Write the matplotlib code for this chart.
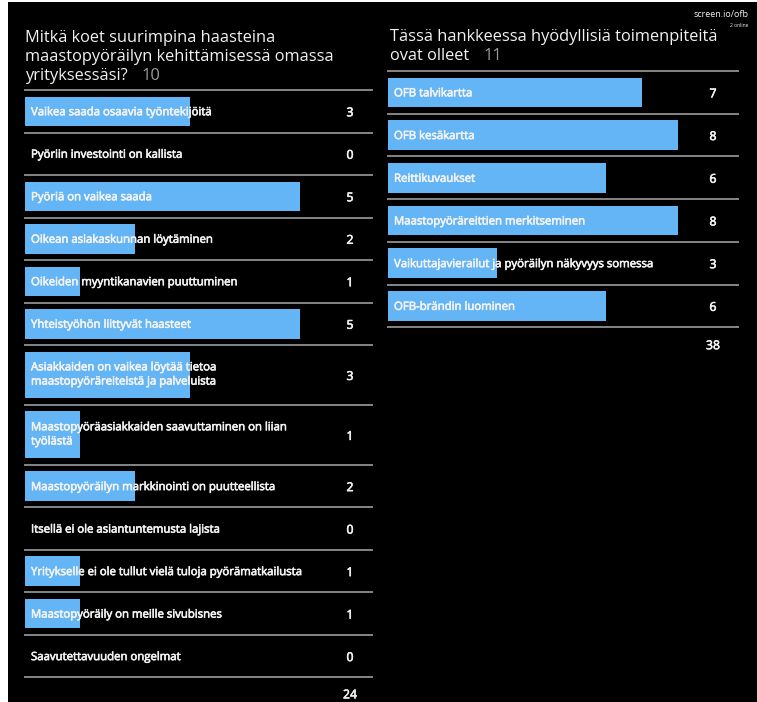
import matplotlib
matplotlib.use("Agg")
import matplotlib.pyplot as plt
import matplotlib.patheffects as pe
from matplotlib.patches import Rectangle
from matplotlib.text import Annotation

# ---------------- data ----------------
left_title = ["Mitkä koet suurimpina haasteina",
              "maastopyöräilyn kehittämisessä omassa",
              "yrityksessäsi?"]
left_respondents = 10
left_labels = [
    "Vaikea saada osaavia työntekijöitä",
    "Pyöriin investointi on kallista",
    "Pyöriä on vaikea saada",
    "Oikean asiakaskunnan löytäminen",
    "Oikeiden myyntikanavien puuttuminen",
    "Yhteistyöhön liittyvät haasteet",
    "Asiakkaiden on vaikea löytää tietoa\nmaastopyöräreiteistä ja palveluista",
    "Maastopyöräasiakkaiden saavuttaminen on liian\ntyölästä",
    "Maastopyöräilyn markkinointi on puutteellista",
    "Itsellä ei ole asiantuntemusta lajista",
    "Yritykselle ei ole tullut vielä tuloja pyörämatkailusta",
    "Maastopyöräily on meille sivubisnes",
    "Saavutettavuuden ongelmat",
]
left_values = [3, 0, 5, 2, 1, 5, 3, 1, 2, 0, 1, 1, 0]
left_total = 24

right_title = ["Tässä hankkeessa hyödyllisiä toimenpiteitä",
               "ovat olleet"]
right_respondents = 11
right_labels = [
    "OFB talvikartta",
    "OFB kesäkartta",
    "Reittikuvaukset",
    "Maastopyöräreittien merkitseminen",
    "Vaikuttajavierailut ja pyöräilyn näkyvyys somessa",
    "OFB-brändin luominen",
]
right_values = [7, 8, 6, 8, 3, 6]
right_total = 38

# ---------------- style ----------------
W, H = 757, 702
BG = "#000000"
BAR = "#64b5f6"
SEP = "#858585"
TXT = "#f2f2f2"
CNT = "#9a9a9a"
FONT = ["Open Sans", "DejaVu Sans"]
FAT = [pe.withStroke(linewidth=0.45, foreground=TXT)]

fig = plt.figure(figsize=(W / 100, H / 100), dpi=100)
fig.patch.set_facecolor(BG)
# white frame strips (left and top) of the screenshot
fig.add_artist(Rectangle((0, 0), 8 / W, 1, transform=fig.transFigure,
                         facecolor="white", edgecolor="none", zorder=20))
fig.add_artist(Rectangle((0, 1 - 2 / H), 1, 2 / H, transform=fig.transFigure,
                         facecolor="white", edgecolor="none", zorder=20))


def fx(px):
    return px / W


def fy(py):
    return 1 - py / H


def title(lines, respondents, x_px, baselines):
    last = None
    for line, b in zip(lines, baselines):
        last = fig.text(fx(x_px), fy(b), line, color=TXT, fontsize=11.8,
                        family=FONT, va="baseline", ha="left")
    ann = Annotation(str(respondents), xy=(1, 0), xycoords=last,
                     xytext=(10, 0), textcoords="offset points",
                     color=CNT, fontsize=11.8, family=FONT,
                     va="bottom", ha="left")
    fig.add_artist(ann)
    return ann


def panel(x0, x1, top, unit, labels, values, total, num_x, row_h, total_gap):
    ax = fig.add_axes([fx(x0), 0, fx(x1) - fx(x0), fy(top)])
    ax.set_facecolor("none")
    ax.set_xlim(0, (x1 - x0) / unit)
    ax.set_ylim(H - top, 0)
    ax.axis("off")
    y = 0
    ax.plot([0, 1], [0, 0], transform=ax.get_yaxis_transform(),
            color=SEP, lw=1.4, clip_on=False)
    for lab, v in zip(labels, values):
        nlines = lab.count("\n") + 1
        h = row_h if nlines == 1 else row_h * 1.41
        c = y + h / 2
        ax.barh(c, v, height=h - 13, left=0, color=BAR, zorder=2)
        ax.text(6 / unit, c, lab, color=TXT, fontsize=8.2, family=FONT,
                va="center_baseline" if nlines == 1 else "center",
                ha="left", zorder=3, linespacing=1.4, path_effects=FAT)
        ax.text((num_x - x0) / unit, c, str(v), color=TXT, fontsize=8.8,
                family=FONT, va="center_baseline", ha="center", zorder=3,
                path_effects=FAT)
        y += h
        ax.plot([0, 1], [y, y], transform=ax.get_yaxis_transform(),
                color=SEP, lw=1.4, clip_on=False)
    ax.text((num_x - x0) / unit, y + total_gap, str(total), color=TXT,
            fontsize=8.8, family=FONT, va="center_baseline", ha="center",
            path_effects=FAT)
    return ax


panel(25, 372, 90, 55.0, left_labels, left_values, left_total, 350, 42.5, 16)
panel(388, 738, 71, 36.3, right_labels, right_values, right_total, 713, 42.7, 17)

title(left_title, left_respondents, 25, [42, 61, 80])
title(right_title, right_respondents, 390, [41, 60])

fig.text(fx(748), fy(17), "screen.io/ofb", color=TXT, fontsize=6.5,
         family=FONT, ha="right", va="baseline")
fig.text(fx(748), fy(27), "2 online", color=TXT, fontsize=3.6,
         family=FONT, ha="right", va="baseline")

fig.savefig("out.png", dpi=100, facecolor=fig.get_facecolor())
